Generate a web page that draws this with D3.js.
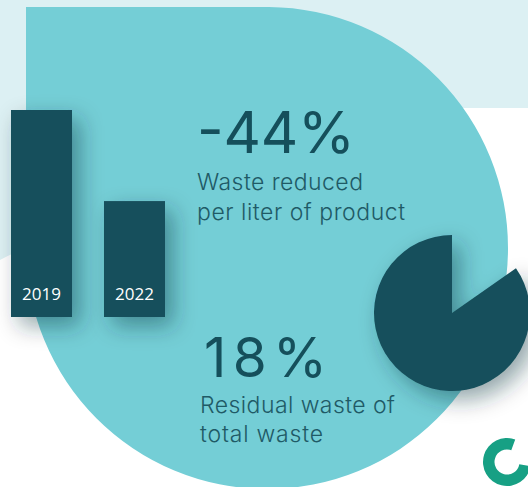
<!DOCTYPE html>
<html>
<head>
<meta charset="utf-8">
<script src="https://cdn.jsdelivr.net/npm/d3@7"></script>
<style>
html,body{margin:0;padding:0;background:#fff;}
svg{display:block;}
</style>
</head>
<body>
<svg id="chart" width="528" height="487"></svg>
<script>
// ---- data ----
const years = ["2019", "2022"];
const wasteIndex = [100, 56];            // waste per liter, 2019 = 100
const pieLabels = ["Residual", "Other"];
const pieValues = [15.3, 84.7];          // share of total waste as drawn
const statValues = ["-44%", "18%"];
const statLabels = [["Waste reduced", "per liter of product"], ["Residual waste of", "total waste"]];

const dark = "#154f5b", teal = "#74ced6", light = "#dcf0f3", green = "#17a084";

const svg = d3.select("#chart");
const defs = svg.append("defs");
const f = defs.append("filter").attr("id", "sh").attr("x", "-60%").attr("y", "-60%").attr("width", "220%").attr("height", "220%");
f.append("feDropShadow").attr("dx", 8).attr("dy", 9).attr("stdDeviation", 11)
  .attr("flood-color", "#0a2e35").attr("flood-opacity", 0.42);

// background band
svg.append("path")
  .attr("d", "M0,0 H528 V108 H30 V246 Q15,252 0,260 Z")
  .attr("fill", light);

// big teal shape: square top-left corner + circle
const cx = 269, cy = 248, R = 241;
svg.append("path")
  .attr("d", `M26,7 H${cx} A${R},${R} 0 1 1 26,${cy} Z`)
  .attr("fill", teal);

// bars
const x = d3.scaleBand().domain(years).range([11, 165]).paddingInner(0.344).paddingOuter(0);
const y = d3.scaleLinear().domain([0, 100]).range([317, 110]);
const bars = svg.append("g");
bars.selectAll("rect").data(years).join("rect")
  .attr("x", d => x(d)).attr("width", x.bandwidth())
  .attr("y", (d, i) => y(wasteIndex[i]))
  .attr("height", (d, i) => y(0) - y(wasteIndex[i]))
  .attr("fill", dark).attr("filter", "url(#sh)");
bars.selectAll("text").data(years).join("text")
  .attr("x", d => x(d) + x.bandwidth() / 2).attr("y", 300)
  .attr("text-anchor", "middle")
  .attr("font-family", "Open Sans, sans-serif").attr("font-size", 17)
  .attr("fill", "#fff").text(d => d);

// pie
const pie = d3.pie().sort(null).startAngle(0).endAngle(2 * Math.PI)(pieValues);
const arc = d3.arc().innerRadius(0).outerRadius(78);
svg.append("g").attr("transform", "translate(452,313)")
  .selectAll("path").data(pie.filter((d, i) => i === 1)).join("path")
  .attr("d", arc).attr("fill", dark).attr("filter", "url(#sh)");

// stats text
const stats = [
  { x: 197, lx: 197, y: 153, size: 58, w: 158, lines: [190, 220], lw: [166, 208] },
  { x: 204, lx: 200, y: 377, size: 55, w: 123, lines: [413, 442], lw: [195, 123] }
];
stats.forEach((s, i) => {
  svg.append("text").attr("x", s.x).attr("y", s.y)
    .attr("font-family", "Inter, sans-serif").attr("font-weight", 400)
    .attr("font-size", s.size).attr("fill", dark)
    .attr("textLength", s.w).attr("lengthAdjust", "spacing")
    .text(statValues[i]);
  statLabels[i].forEach((t, j) => {
    svg.append("text").attr("x", s.lx).attr("y", s.lines[j])
      .attr("font-family", "Inter, sans-serif").attr("font-weight", 300)
      .attr("font-size", 23).attr("fill", "#1f5a66")
      .attr("textLength", s.lw[j]).attr("lengthAdjust", "spacing")
      .text(t);
  });
});

// green logo ring
const ring = d3.arc().innerRadius(12.5).outerRadius(24)
  .startAngle(100 * Math.PI / 180).endAngle(380 * Math.PI / 180);
svg.append("path").attr("transform", "translate(507,462)")
  .attr("d", ring()).attr("fill", green);
</script>
</body>
</html>
